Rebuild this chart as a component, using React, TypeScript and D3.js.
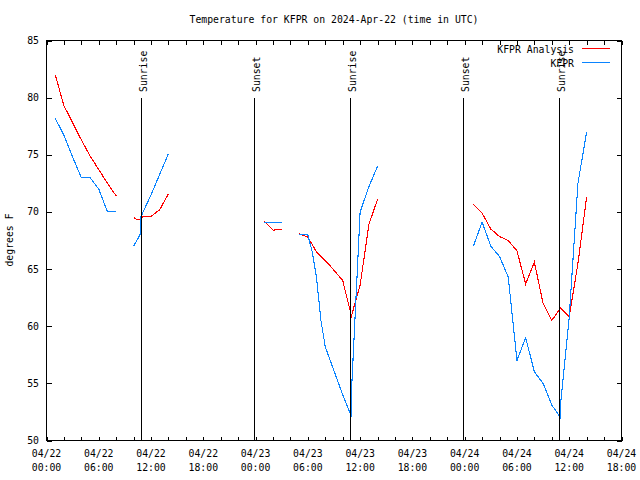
import React from "react";
import * as d3 from "d3";

const title = "Temperature for KFPR on 2024-Apr-22 (time in UTC)";
const yLabel = "degrees F";

// hours since 2024-04-22 00:00 UTC; null = gap
const analysisHours: (number | null)[] = [
  1, 2, 3, 4, 5, 6, 7, 8, null,
  10, 10.5, 10.85, 11, 12, 13, 14, null,
  25, 26, 27, null,
  29, 30, 31, 32, 33, 34, 35, 36, 37, 38, null,
  49, 50, 51, 52, 53, 54, 55, 56, 57, 58, 59, 60, 61, 62,
];
const analysisTemps: (number | null)[] = [
  82.0, 79.3, 77.8, 76.3, 74.9, 73.7, 72.5, 71.4, null,
  69.5, 69.3, 69.3, 69.6, 69.6, 70.2, 71.6, null,
  69.2, 68.4, 68.5, null,
  68.1, 67.8, 66.5, 65.75, 64.9, 64.0, 60.9, 63.6, 68.9, 71.1, null,
  70.65, 69.9, 68.5, 67.85, 67.5, 66.6, 63.7, 65.6, 62.0, 60.5, 61.6, 60.85, 65.5, 71.3,
];

const obsHours: (number | null)[] = [
  1, 2, 3, 4, 5, 6, 7, 8, null,
  10, 10.8, 10.85, 12, 13, 14, null,
  25, 26, 27, null,
  29, 30, 30.5, 31, 31.5, 32, 33, 34, 35, 35.05, 36, 37, 38, null,
  49, 50, 51, 52, 53, 54, 55, 56, 57, 58, 59, 59.05, 60, 61, 62,
];
const obsTemps: (number | null)[] = [
  78.2, 76.7, 74.8, 73.0, 73.0, 72.0, 70.0, 70.0, null,
  67.0, 68.1, 69.6, 71.5, 73.3, 75.1, null,
  69.1, 69.1, 69.1, null,
  68.0, 68.0, 66.5, 64.2, 60.5, 58.2, 56.1, 54.0, 52.1, 55.0, 70.0, 72.2, 74.0, null,
  67.0, 69.1, 67.0, 66.1, 64.3, 57.0, 59.0, 56.0, 55.0, 53.1, 52.0, 53.5, 60.8, 72.5, 77.0,
];

const sunEventHours = [10.84, 23.8, 34.86, 47.8, 58.84];
const sunEventLabels = ["Sunrise", "Sunset", "Sunrise", "Sunset", "Sunrise"];

const xTickHours = d3.range(0, 67, 2);
const xLabelHours = [0, 6, 12, 18, 24, 30, 36, 42, 48, 54, 60, 66];
const xLabelDates = ["04/22", "04/22", "04/22", "04/22", "04/23", "04/23", "04/23", "04/23", "04/24", "04/24", "04/24", "04/24"];
const xLabelTimes = ["00:00", "06:00", "12:00", "18:00", "00:00", "06:00", "12:00", "18:00", "00:00", "06:00", "12:00", "18:00"];
const yTicks = [50, 55, 60, 65, 70, 75, 80, 85];

const seriesNames = ["KFPR Analysis", "KFPR"];
const seriesColors = ["#ff0000", "#0a84ff"];

const FONT = "'DejaVu Sans Mono', monospace";
const FS = 9.8;

export default function App() {
  const L = 46.5, R = 621.5, T = 40.5, B = 440.5;
  const x = d3.scaleLinear().domain([0, 66]).range([L, R]);
  const y = d3.scaleLinear().domain([50, 85]).range([B, T]);

  const mk = (hs: (number | null)[], ts: (number | null)[]) => {
    const pts = hs.map((h, i) => [h, ts[i]] as [number | null, number | null]);
    const line = d3
      .line<[number | null, number | null]>()
      .defined((d) => d[0] != null && d[1] != null)
      .x((d) => x(d[0] as number))
      .y((d) => y(d[1] as number));
    return line(pts) || "";
  };

  return (
    <svg width={640} height={480} style={{ position: "absolute", left: 0, top: 0, background: "#fff" }}
      fontFamily={FONT} fontSize={FS}>
      <rect x={0} y={0} width={640} height={480} fill="#fff" />
      <text x={(L + R) / 2} y={23} textAnchor="middle">{title}</text>

      {/* ticks */}
      {xTickHours.map((h) => (
        <g key={"xt" + h} stroke="#000" shapeRendering="crispEdges">
          <line x1={Math.round(x(h)) + 0.5} x2={Math.round(x(h)) + 0.5} y1={B} y2={B - 4} />
          <line x1={Math.round(x(h)) + 0.5} x2={Math.round(x(h)) + 0.5} y1={T} y2={T + 4} />
        </g>
      ))}
      {yTicks.map((v) => (
        <g key={"yt" + v} stroke="#000" shapeRendering="crispEdges">
          <line x1={L} x2={L + 5} y1={Math.round(y(v)) + 0.5} y2={Math.round(y(v)) + 0.5} />
          <line x1={R} x2={R - 5} y1={Math.round(y(v)) + 0.5} y2={Math.round(y(v)) + 0.5} />
        </g>
      ))}
      {yTicks.map((v) => (
        <text key={"yl" + v} x={39} y={y(v) + 3.5} textAnchor="end">{v}</text>
      ))}
      {xLabelHours.map((h, i) => (
        <g key={"xl" + h}>
          <text x={x(h)} y={457} textAnchor="middle">{xLabelDates[i]}</text>
          <text x={x(h)} y={471} textAnchor="middle">{xLabelTimes[i]}</text>
        </g>
      ))}
      <text transform={`translate(13,240) rotate(-90)`} textAnchor="middle">{yLabel}</text>

      {/* data */}
      <path d={mk(analysisHours, analysisTemps)} fill="none" stroke={seriesColors[0]} strokeWidth={1.1} shapeRendering="crispEdges" />
      <path d={mk(obsHours, obsTemps)} fill="none" stroke={seriesColors[1]} strokeWidth={1.1} shapeRendering="crispEdges" />

      {/* sun events */}
      {sunEventHours.map((h, i) => {
        const px = Math.round(x(h)) + 0.5;
        return (
          <g key={"sun" + i}>
            <line x1={px} x2={px} y1={B} y2={98} stroke="#000" strokeWidth={1} shapeRendering="crispEdges" />
            <text transform={`translate(${px + 5.5},92) rotate(-90)`} textAnchor="start">{sunEventLabels[i]}</text>
          </g>
        );
      })}

      {/* legend */}
      <text x={574} y={53} textAnchor="end">{seriesNames[0]}</text>
      <line x1={582} x2={610} y1={48.5} y2={48.5} stroke={seriesColors[0]} strokeWidth={1} shapeRendering="crispEdges" />
      <text x={574} y={67} textAnchor="end">{seriesNames[1]}</text>
      <line x1={582} x2={610} y1={62.5} y2={62.5} stroke={seriesColors[1]} strokeWidth={1} shapeRendering="crispEdges" />

      <rect x={L} y={T} width={R - L} height={B - T} fill="none" stroke="#000" strokeWidth={1} shapeRendering="crispEdges" />
    </svg>
  );
}
